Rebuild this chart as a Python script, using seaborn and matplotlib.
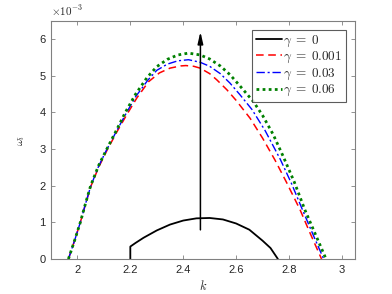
import numpy as np
import pandas as pd
import matplotlib
matplotlib.use("Agg")
import matplotlib.pyplot as plt
import matplotlib.ticker as mticker
import seaborn as sns

# ---- data (omega_i in units of 1e-3) ----
k_g0 = [2.2, 2.2, 2.22, 2.25, 2.3, 2.35, 2.4, 2.45, 2.5, 2.55, 2.6, 2.65, 2.7, 2.73, 2.758]
w_g0 = [0.0, 0.34, 0.44, 0.58, 0.78, 0.94, 1.05, 1.11, 1.12, 1.08, 0.97, 0.80, 0.50, 0.30, 0.0]

k_g1 = [1.966, 1.99, 2.011, 2.03, 2.05, 2.08, 2.112, 2.15, 2.185, 2.225, 2.269, 2.31, 2.35,
        2.39, 2.41, 2.44, 2.464, 2.50, 2.527, 2.565, 2.6, 2.653, 2.70, 2.747, 2.79, 2.842,
        2.88, 2.923]
w_g1 = [0.0, 0.52, 1.0, 1.48, 1.97, 2.5, 2.97, 3.48, 3.92, 4.4, 4.84, 5.08, 5.21,
        5.27, 5.28, 5.26, 5.21, 5.06, 4.89, 4.62, 4.33, 3.84, 3.3, 2.70, 2.1, 1.34,
        0.7, 0.0]

k_g2 = [1.966, 1.99, 2.011, 2.03, 2.05, 2.08, 2.111, 2.15, 2.183, 2.22, 2.266, 2.30, 2.34,
        2.38, 2.42, 2.464, 2.50, 2.54, 2.577, 2.615, 2.66, 2.71, 2.767, 2.81, 2.851,
        2.89, 2.931]
w_g2 = [0.0, 0.52, 1.0, 1.49, 1.98, 2.53, 2.99, 3.52, 3.96, 4.43, 4.88, 5.15, 5.32,
        5.41, 5.44, 5.37, 5.26, 5.06, 4.8, 4.48, 4.08, 3.5, 2.72, 2.05, 1.34,
        0.68, 0.0]

k_g3 = [1.966, 1.99, 2.011, 2.03, 2.05, 2.08, 2.111, 2.15, 2.181, 2.22, 2.263, 2.30, 2.34,
        2.38, 2.42, 2.464, 2.50, 2.54, 2.577, 2.615, 2.665, 2.70, 2.74, 2.778, 2.82,
        2.86, 2.90, 2.94]
w_g3 = [0.0, 0.52, 1.0, 1.5, 2.0, 2.55, 3.0, 3.55, 4.0, 4.5, 4.95, 5.25, 5.45,
        5.57, 5.62, 5.57, 5.46, 5.27, 5.03, 4.72, 4.30, 3.92, 3.40, 2.80, 2.10,
        1.34, 0.67, 0.0]

labels = [r"$\gamma\;=\;0$", r"$\gamma\;=\;0.001$", r"$\gamma\;=\;0.03$", r"$\gamma\;=\;0.06$"]
scale = 1e-3

sns.set_style("ticks")
plt.rcParams["mathtext.fontset"] = "cm"
plt.rcParams["font.family"] = ["Liberation Sans", "DejaVu Sans"]

fig = plt.figure(figsize=(3.92, 2.94), dpi=100)
ax = fig.add_axes([0.130, 0.119, 0.776, 0.810])

series = [
    (k_g0, w_g0, "black", "-", 1.3),
    (k_g1, w_g1, (1, 0, 0), (0, (5, 3)), 1.1),
    (k_g2, w_g2, (0, 0, 1), (0, (6, 2, 1.5, 2)), 1.0),
    (k_g3, w_g3, (0, 0.5, 0), (0, (1, 1.2)), 2.0),
]
for (kk, ww, c, ls, lw), lab in zip(series, labels):
    df = pd.DataFrame({"k": kk, "w": np.array(ww) * scale})
    sns.lineplot(data=df, x="k", y="w", sort=False, estimator=None, color=c,
                 linestyle=ls, linewidth=lw, label=lab, ax=ax)

ax.annotate("", xy=(2.465, 6.28 * scale), xytext=(2.465, 0.72 * scale),
            arrowprops=dict(arrowstyle="-|>,head_width=0.16,head_length=0.7",
                            color="black", lw=1.1))

ax.set_xlim(1.9, 3.05)
ax.set_ylim(0, 6.5 * scale)
ax.set_xticks([2, 2.2, 2.4, 2.6, 2.8, 3])
ax.xaxis.set_major_formatter(mticker.FuncFormatter(lambda v, p: f"{v:g}"))
ax.set_yticks(np.arange(0, 7) * scale)
ax.yaxis.set_major_formatter(mticker.FuncFormatter(lambda v, p: f"{v/scale:.0f}"))

gray = (0.15, 0.15, 0.15)
for s in ax.spines.values():
    s.set_visible(True)
    s.set_color((0.5, 0.5, 0.5))
    s.set_linewidth(0.8)
ax.tick_params(direction="in", top=True, right=True, length=3, width=0.6,
               colors=(0.5, 0.5, 0.5), labelcolor=gray, labelsize=8, pad=4)

ax.set_xlabel(r"$k$", fontsize=9, labelpad=3)
ax.set_ylabel(r"$\omega_i$", fontsize=8, labelpad=9)
ax.text(0.0, 1.01, r"$\times10^{-3}$", transform=ax.transAxes, fontsize=8,
        color=gray, ha="left", va="bottom", family="DejaVu Sans")

leg = ax.legend(loc="upper right", fontsize=9.5, frameon=True, fancybox=False,
                handlelength=2.0, handletextpad=0.1, borderpad=0.25,
                labelspacing=0.1, borderaxespad=0.7)
leg.get_frame().set_edgecolor((0.2, 0.2, 0.2))
leg.get_frame().set_linewidth(0.8)

fig.savefig("out.png", dpi=100)
